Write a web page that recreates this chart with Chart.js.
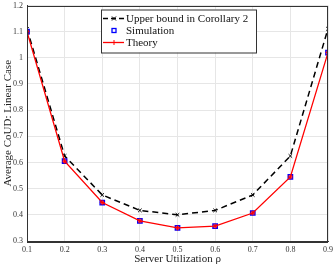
<!DOCTYPE html>
<html>
<head>
<meta charset="utf-8">
<script src="https://cdn.jsdelivr.net/npm/chart.js@4"></script>
<style>
  html, body { margin: 0; padding: 0; background: #fff; }
  #wrap { width: 334px; height: 266px; }
</style>
</head>
<body>
<div id="wrap"><canvas id="coudChart" width="334" height="266"></canvas></div>
<script>
// données
const utilisation = [0.1, 0.2, 0.3, 0.4, 0.5, 0.6, 0.7, 0.8, 0.9];
const borneSup   = [1.111, 0.625, 0.476, 0.417, 0.400, 0.417, 0.476, 0.625, 1.111];
const simulation = [1.100, 0.605, 0.447, 0.377, 0.350, 0.357, 0.407, 0.545, 1.020];
const theorie    = [1.100, 0.605, 0.447, 0.377, 0.350, 0.357, 0.407, 0.545, 1.020];
const xTicks = [0.1, 0.2, 0.3, 0.4, 0.5, 0.6, 0.7, 0.8, 0.9];
const yTicks = [0.3, 0.4, 0.5, 0.6, 0.7, 0.8, 0.9, 1, 1.1, 1.2];
const legendLabels = ['Upper bound in Corollary 2', 'Simulation', 'Theory'];

const serif = "'Liberation Serif', 'DejaVu Serif', serif";

function pts(arr) {
    return arr.map((v, i) => ({ x: utilisation[i], y: v }));
}

function fmt(v) {
    return Math.abs(v - 1) < 1e-9 ? '1' : v.toFixed(1);
}

// légende dessinée dans la zone du graphique, avec cadre
const legendeInterne = {
    id: 'legendeInterne',
    afterDraw(chart) {
        const ctx = chart.ctx;
        const x0 = 101, y0 = 9.5, w = 155, h = 43;
        ctx.save();
        ctx.fillStyle = '#fff';
        ctx.fillRect(x0, y0, w, h);
        ctx.strokeStyle = '#333';
        ctx.lineWidth = 1;
        ctx.strokeRect(x0 + 0.5, y0 + 0.5, w, h);
        ctx.textBaseline = 'middle';
        const rows = [18.5, 30.5, 42.5];
        const x1 = 103, x2 = 124, xm = 114;

        // ligne pointillée noire + croix
        ctx.strokeStyle = '#000';
        ctx.lineWidth = 1.5;
        ctx.setLineDash([5, 3]);
        ctx.beginPath(); ctx.moveTo(x1, rows[0]); ctx.lineTo(x2, rows[0]); ctx.stroke();
        ctx.setLineDash([]);
        ctx.lineWidth = 1;
        ctx.beginPath();
        ctx.moveTo(xm - 2, rows[0] - 2); ctx.lineTo(xm + 2, rows[0] + 2);
        ctx.moveTo(xm - 2, rows[0] + 2); ctx.lineTo(xm + 2, rows[0] - 2);
        ctx.stroke();

        // carré bleu
        ctx.strokeStyle = '#0000ff';
        ctx.lineWidth = 1.3;
        ctx.strokeRect(xm - 2, rows[1] - 2, 4, 4);

        // ligne rouge + plus
        ctx.strokeStyle = '#ff0000';
        ctx.lineWidth = 1.3;
        ctx.beginPath(); ctx.moveTo(x1, rows[2]); ctx.lineTo(x2, rows[2]); ctx.stroke();
        ctx.lineWidth = 1;
        ctx.beginPath();
        ctx.moveTo(xm, rows[2] - 2.5); ctx.lineTo(xm, rows[2] + 2.5);
        ctx.stroke();

        ctx.font = '11px ' + serif;
        ctx.fillStyle = '#111';
        legendLabels.forEach((t, i) => ctx.fillText(t, 126, rows[i] + 0.5));
        ctx.restore();
    }
};

const ctx = document.getElementById('coudChart').getContext('2d');
new Chart(ctx, {
    type: 'line',
    data: {
        datasets: [
            {
                label: legendLabels[2],
                data: pts(theorie),
                borderColor: '#ff0000',
                backgroundColor: '#ff0000',
                borderWidth: 1.3,
                pointStyle: 'star',
                pointRadius: 2.5,
                pointBorderWidth: 1,
                order: 0
            },
            {
                label: legendLabels[1],
                data: pts(simulation),
                showLine: false,
                borderColor: '#0000ff',
                backgroundColor: 'rgba(0,0,0,0)',
                pointStyle: 'rect',
                pointRadius: 3,
                pointBorderWidth: 1.5,
                order: 1
            },
            {
                label: legendLabels[0],
                data: pts(borneSup),
                borderColor: '#000',
                backgroundColor: '#000',
                borderWidth: 1.5,
                borderDash: [6, 4],
                pointStyle: 'crossRot',
                pointRadius: 2.5,
                pointBorderWidth: 1,
                order: 2
            }
        ]
    },
    options: {
        responsive: false,
        animation: false,
        layout: { padding: { top: 4, right: 6, left: 2, bottom: 0 } },
        plugins: { legend: { display: false }, tooltip: { enabled: false } },
        scales: {
            x: {
                type: 'linear',
                min: 0.1,
                max: 0.9,
                afterBuildTicks: s => { s.ticks = xTicks.map(v => ({ value: v })); },
                afterFit: s => { s.height = 25; s.paddingLeft = 0; s.paddingRight = 0; },
                grid: { color: '#e6e6e6', drawTicks: false },
                border: { color: '#333', width: 1 },
                ticks: {
                    padding: 4,
                    maxRotation: 0,
                    color: '#333',
                    font: { family: serif, size: 8 },
                    callback: v => fmt(v)
                },
                title: {
                    display: true,
                    text: 'Server Utilization \u03c1',
                    color: '#222',
                    padding: 0,
                    font: { family: serif, size: 11 }
                }
            },
            y: {
                min: 0.3,
                max: 1.2,
                afterBuildTicks: s => { s.ticks = yTicks.map(v => ({ value: v })); },
                afterFit: s => { s.width = 25; s.paddingTop = 0; s.paddingBottom = 0; },
                grid: { color: '#e6e6e6', drawTicks: false },
                border: { color: '#333', width: 1 },
                ticks: {
                    padding: 4,
                    color: '#333',
                    font: { family: serif, size: 8 },
                    callback: v => fmt(v)
                },
                title: {
                    display: true,
                    text: 'Average CoUD: Linear Case',
                    color: '#222',
                    padding: 0,
                    font: { family: serif, size: 11 }
                }
            }
        }
    },
    plugins: [legendeInterne, {
        id: 'cadre',
        afterDatasetsDraw(chart) {
            const a = chart.chartArea, c = chart.ctx;
            c.save();
            c.strokeStyle = '#333';
            c.lineWidth = 1;
            c.strokeRect(Math.round(a.left) + 0.5, Math.round(a.top) + 0.5,
                Math.round(a.right - a.left) - 1, Math.round(a.bottom - a.top));
            c.restore();
        }
    }]
});
</script>
</body>
</html>
